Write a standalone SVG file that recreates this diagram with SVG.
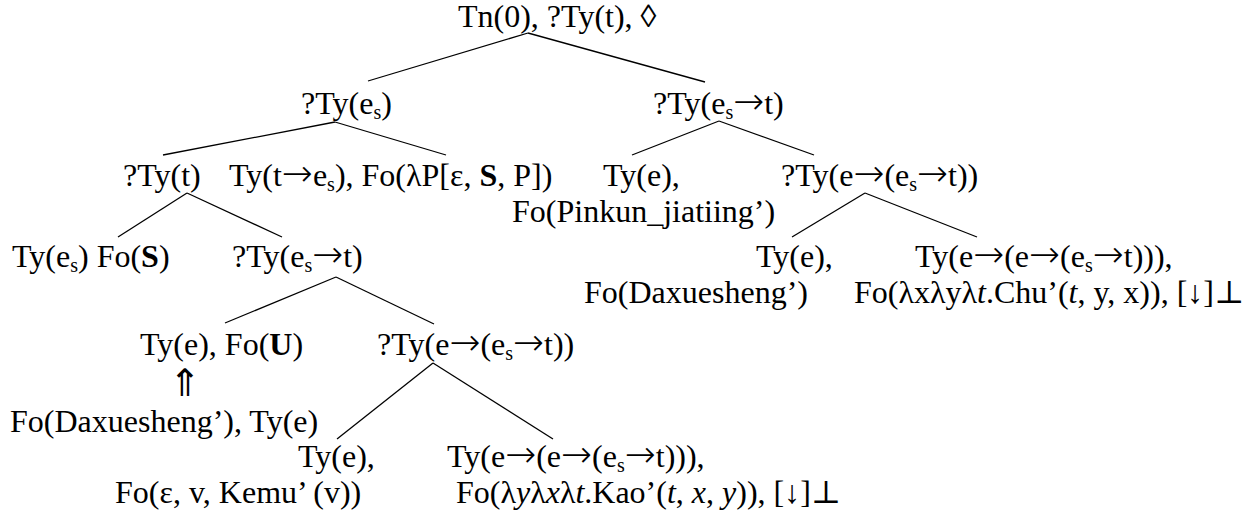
<svg xmlns="http://www.w3.org/2000/svg" width="1260" height="521" viewBox="0 0 1260 521">
<style>
text{font-family:"Liberation Serif","Times New Roman","DejaVu Serif",serif;font-size:32px;fill:#000}
.sub{font-size:20px}
.b{font-weight:bold}
.i{font-style:italic}
.ar{font-family:"DejaVu Sans","Liberation Serif",sans-serif;font-size:37px;font-weight:200}
.up{font-family:"DejaVu Sans","Liberation Serif",sans-serif;font-size:38px;font-weight:200}
.edge{stroke:#000;stroke-width:1.3;fill:none}
</style>
<rect width="1260" height="521" fill="#fff"/>
<g id="connectors">
<line class="edge" x1="528" y1="33" x2="368" y2="81"/>
<line class="edge" x1="528" y1="33" x2="705" y2="82"/>
<line class="edge" x1="335" y1="122" x2="163" y2="155"/>
<line class="edge" x1="335" y1="122" x2="446" y2="155"/>
<line class="edge" x1="719" y1="121" x2="632" y2="155"/>
<line class="edge" x1="719" y1="121" x2="814" y2="155"/>
<line class="edge" x1="187" y1="193" x2="118" y2="237"/>
<line class="edge" x1="187" y1="193" x2="282" y2="237"/>
<line class="edge" x1="865" y1="193" x2="792" y2="237"/>
<line class="edge" x1="865" y1="193" x2="977" y2="237"/>
<line class="edge" x1="336" y1="277" x2="225" y2="323"/>
<line class="edge" x1="336" y1="277" x2="434" y2="324"/>
<line class="edge" x1="433" y1="363" x2="337" y2="439"/>
<line class="edge" x1="433" y1="363" x2="553" y2="439"/>
</g>
<g id="n-root"><text x="458" y="27">Tn(0), ?Ty(t), ◊</text></g>
<g id="n-tyes"><text x="301" y="114">?Ty(e<tspan class="sub" dy="5">s</tspan><tspan dy="-5">)</tspan></text></g>
<g id="n-tyest"><text x="653" y="114">?Ty(e<tspan class="sub" dy="5">s</tspan><tspan class="ar" dy="-5">→</tspan>t)</text></g>
<g id="n-tyt"><text x="123" y="186">?Ty(t)</text></g>
<g id="n-eps"><text x="229" y="186">Ty(t<tspan class="ar">→</tspan>e<tspan class="sub" dy="5">s</tspan><tspan dy="-5">), Fo(λP[ε, </tspan><tspan class="b">S</tspan>, P])</text></g>
<g id="n-pinkun"><text x="603" y="186">Ty(e),</text><text x="512" y="222">Fo(Pinkun_jiatiing’)</text></g>
<g id="n-pred1"><text x="781" y="186">?Ty(e<tspan class="ar">→</tspan>(e<tspan class="sub" dy="5">s</tspan><tspan class="ar" dy="-5">→</tspan>t))</text></g>
<g id="n-s"><text x="12" y="267">Ty(e<tspan class="sub" dy="5">s</tspan><tspan dy="-5">) Fo(</tspan><tspan class="b">S</tspan>)</text></g>
<g id="n-tyest2"><text x="232" y="267">?Ty(e<tspan class="sub" dy="5">s</tspan><tspan class="ar" dy="-5">→</tspan>t)</text></g>
<g id="n-daxue1"><text x="756" y="267">Ty(e),</text><text x="584" y="303">Fo(Daxuesheng’)</text></g>
<g id="n-chu"><text x="915" y="267">Ty(e<tspan class="ar">→</tspan>(e<tspan class="ar">→</tspan>(e<tspan class="sub" dy="5">s</tspan><tspan class="ar" dy="-5">→</tspan>t))),</text><text x="854" y="303">Fo(λxλyλ<tspan class="i">t</tspan>.Chu’(<tspan class="i">t</tspan>, y, x)), [↓]⊥</text></g>
<g id="n-u"><text x="140" y="355">Ty(e), Fo(<tspan class="b">U</tspan>)</text><text class="up" x="169" y="396">⇑</text><text x="10" y="432">Fo(Daxuesheng’), Ty(e)</text></g>
<g id="n-pred2"><text x="377" y="355">?Ty(e<tspan class="ar">→</tspan>(e<tspan class="sub" dy="5">s</tspan><tspan class="ar" dy="-5">→</tspan>t))</text></g>
<g id="n-kemu"><text x="298" y="467">Ty(e),</text><text x="115" y="503">Fo(ε, v, Kemu’ (v))</text></g>
<g id="n-kao"><text x="447" y="467">Ty(e<tspan class="ar">→</tspan>(e<tspan class="ar">→</tspan>(e<tspan class="sub" dy="5">s</tspan><tspan class="ar" dy="-5">→</tspan>t))),</text><text x="456" y="503">Fo(λ<tspan class="i">y</tspan>λ<tspan class="i">x</tspan>λ<tspan class="i">t</tspan>.Kao’(<tspan class="i">t</tspan>, <tspan class="i">x</tspan>, <tspan class="i">y</tspan>)), [↓]⊥</text></g>
</svg>
